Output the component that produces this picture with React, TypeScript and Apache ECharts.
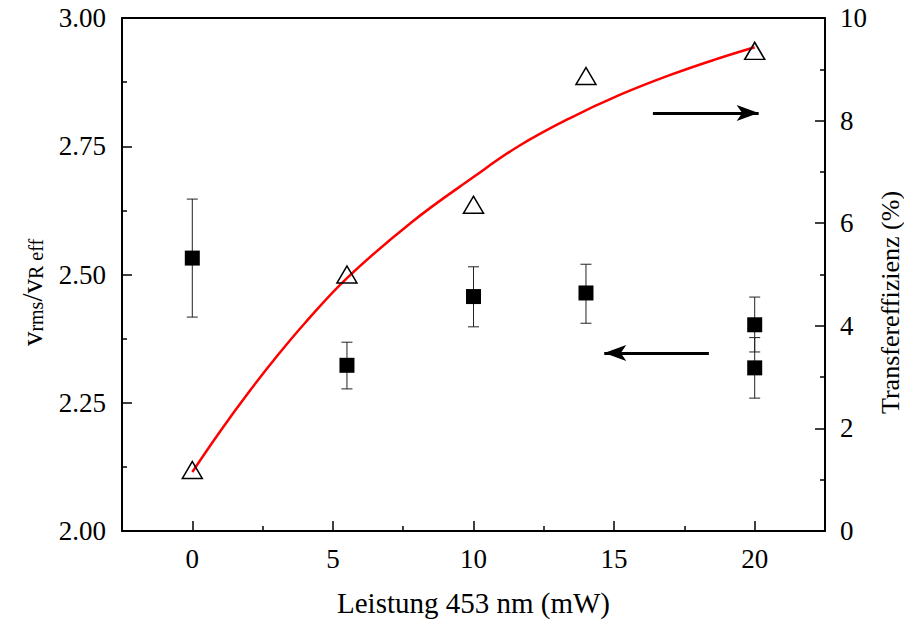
import React, { useEffect, useRef } from "react";
import * as echarts from "echarts";

// Squares (left axis): v_rms / v_R eff with error bars
const powerSq = [0, 5.5, 10, 14, 20, 20];
const ratio = [2.532, 2.323, 2.457, 2.464, 2.402, 2.318];
const ratioHi = [2.647, 2.368, 2.515, 2.52, 2.456, 2.377];
const ratioLo = [2.417, 2.277, 2.398, 2.405, 2.349, 2.259];

// Triangles (right axis): transfer efficiency (%)
const powerTri = [0, 5.5, 10, 14, 20];
const efficiency = [1.19, 5.0, 6.36, 8.87, 9.36];

// Red fit curve (right axis)
const curveX = [0, 1, 2, 3, 4, 5.5, 7.8, 10, 11.6, 13.4, 15.2, 17, 18.7, 20];
const curveY = [1.15, 1.95, 2.7, 3.4, 4.05, 4.93, 6.02, 6.9, 7.5, 8.04, 8.5, 8.89, 9.21, 9.43];

// Annotation arrows
const leftArrowX = [18.37, 14.65];
const leftArrowY = 2.347;
const rightArrowX = [16.38, 20.14];
const rightArrowY = 8.15;

const xTicks = [0, 5, 10, 15, 20];
const xMinorTicks = [2.5, 7.5, 12.5, 17.5];

const FONT = "'Liberation Serif', 'Times New Roman', Times, serif";

export default function App() {
  const ref = useRef<HTMLDivElement>(null);
  useEffect(() => {
    if (!ref.current) return;
    const chart = echarts.init(ref.current, null, { renderer: "svg" });
    const axisLine = { show: true, onZero: false, lineStyle: { color: "#000", width: 2 } };
    const option: any = {
      animation: false,
      backgroundColor: "#fff",
      textStyle: { fontFamily: FONT },
      grid: { left: 122, right: 79, top: 18, bottom: 95, containLabel: false, outerBoundsMode: "none" },
      xAxis: [
        {
          type: "value",
          min: -2.5,
          max: 22.5,
          position: "bottom",
          axisLine,
          axisTick: { show: true, inside: true, length: 10, customValues: xTicks, lineStyle: { color: "#000", width: 1.5 } },
          axisLabel: { customValues: xTicks, fontSize: 27, fontFamily: FONT, color: "#000", margin: 14 },
          splitLine: { show: false },
          name: "Leistung 453 nm (mW)",
          nameLocation: "middle",
          nameGap: 57,
          nameTextStyle: { fontSize: 29, fontFamily: FONT, color: "#000" },
        },
        {
          type: "value",
          min: -2.5,
          max: 22.5,
          position: "bottom",
          axisLine: { show: false, onZero: false },
          axisTick: { show: true, inside: true, length: 5, customValues: xMinorTicks, lineStyle: { color: "#000", width: 1.5 } },
          axisLabel: { show: false },
          splitLine: { show: false },
        },
        {
          type: "value",
          min: -2.5,
          max: 22.5,
          position: "top",
          axisLine,
          axisTick: { show: false },
          axisLabel: { show: false },
          splitLine: { show: false },
        },
      ],
      yAxis: [
        {
          type: "value",
          min: 2,
          max: 3,
          interval: 0.25,
          position: "left",
          axisLine,
          axisTick: { show: true, inside: true, length: 10, lineStyle: { color: "#000", width: 1.5 } },
          minorTick: { show: true, splitNumber: 2, length: 5, lineStyle: { color: "#000", width: 1.5 } },
          axisLabel: { fontSize: 27, fontFamily: FONT, color: "#000", margin: 16, formatter: (v: number) => v.toFixed(2) },
          splitLine: { show: false },
          name: "v{s|rms}/v{s|R eff}",
          nameLocation: "middle",
          nameRotate: 90,
          nameGap: 76,
          nameTextStyle: {
            fontSize: 29,
            fontFamily: FONT,
            color: "#000",
            lineHeight: 29,
            padding: [0, 36, 0, 0],
            rich: { s: { fontSize: 20, fontFamily: FONT, color: "#000", lineHeight: 2, verticalAlign: "bottom" } },
          },
        },
        {
          type: "value",
          min: 0,
          max: 10,
          interval: 2,
          position: "right",
          axisLine,
          axisTick: { show: true, inside: true, length: 10, lineStyle: { color: "#000", width: 1.5 } },
          minorTick: { show: true, splitNumber: 2, length: 5, lineStyle: { color: "#000", width: 1.5 } },
          axisLabel: { fontSize: 27, fontFamily: FONT, color: "#000", margin: 15 },
          splitLine: { show: false },
          name: "Transfereffizienz (%)",
          nameLocation: "middle",
          nameRotate: 90,
          nameGap: 45,
          nameTextStyle: { fontSize: 26, fontFamily: FONT, color: "#000", lineHeight: 26, padding: [0, 56, 0, 0] },
        },
      ],
      series: [
        {
          type: "line",
          xAxisIndex: 0,
          yAxisIndex: 1,
          data: curveX.map((x, i) => [x, curveY[i]]),
          smooth: 0.4,
          showSymbol: false,
          lineStyle: { color: "#ff0000", width: 2.5 },
          z: 2,
          silent: true,
        },
        {
          type: "custom",
          xAxisIndex: 0,
          yAxisIndex: 0,
          data: powerSq.map((x, i) => [x, ratioLo[i], ratioHi[i]]),
          renderItem: (params: any, api: any) => {
            const x = api.value(0);
            const lo = api.coord([x, api.value(1)]);
            const hi = api.coord([x, api.value(2)]);
            const w = 5.5;
            const st = { stroke: "#222", lineWidth: 1 };
            return {
              type: "group",
              children: [
                { type: "line", shape: { x1: lo[0], y1: lo[1], x2: hi[0], y2: hi[1] }, style: st },
                { type: "line", shape: { x1: lo[0] - w, y1: lo[1], x2: lo[0] + w, y2: lo[1] }, style: st },
                { type: "line", shape: { x1: hi[0] - w, y1: hi[1], x2: hi[0] + w, y2: hi[1] }, style: st },
              ],
            };
          },
          z: 3,
          silent: true,
        },
        {
          type: "scatter",
          xAxisIndex: 0,
          yAxisIndex: 0,
          data: powerSq.map((x, i) => [x, ratio[i]]),
          symbol: "rect",
          symbolSize: 15,
          itemStyle: { color: "#000", opacity: 1 },
          z: 4,
          silent: true,
          markLine: {
            silent: true,
            symbol: ["none", "arrow"],
            symbolSize: [12, 22],
            label: { show: false },
            lineStyle: { color: "#000", width: 3, type: "solid" },
            data: [[{ coord: [leftArrowX[0], leftArrowY] }, { coord: [leftArrowX[1], leftArrowY] }]],
          },
        },
        {
          type: "scatter",
          xAxisIndex: 0,
          yAxisIndex: 1,
          data: powerTri.map((x, i) => [x, efficiency[i]]),
          symbol: "triangle",
          symbolSize: [20, 17],
          itemStyle: { color: "transparent", borderColor: "#000", borderWidth: 1.5, opacity: 1 },
          z: 5,
          silent: true,
          markLine: {
            silent: true,
            symbol: ["none", "arrow"],
            symbolSize: [12, 22],
            label: { show: false },
            lineStyle: { color: "#000", width: 3, type: "solid" },
            data: [[{ coord: [rightArrowX[0], rightArrowY] }, { coord: [rightArrowX[1], rightArrowY] }]],
          },
        },
      ],
    };
    chart.setOption(option);
    return () => chart.dispose();
  }, []);
  return <div ref={ref} style={{ width: 904, height: 626, position: "absolute", left: 0, top: 0 }} />;
}
